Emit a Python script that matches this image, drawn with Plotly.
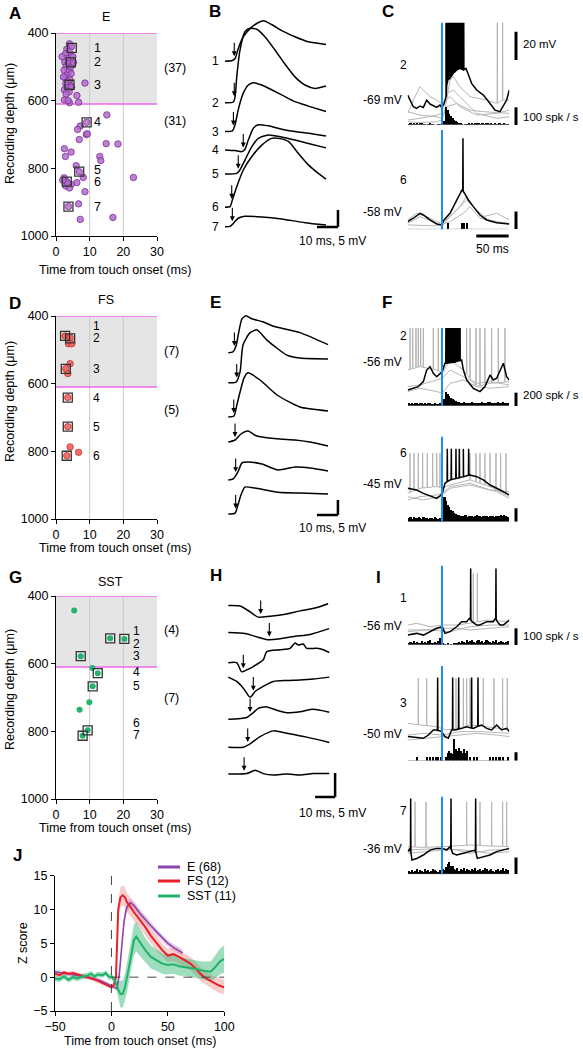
import numpy as np
import plotly.graph_objects as go

W, H = 583, 1050
FONT = "Liberation Sans, Arial, Helvetica, sans-serif"

# ======================= DATA =======================
# ---- A: E cells  (latency ms, depth um)
E_lat = [4.0, 4.6, 3.2, 3.9, 2.8, 4.4, 3.4, 4.0, 2.6, 3.6, 4.8, 3.0, 4.2, 2.4, 3.8, 4.5, 3.1, 2.7, 4.1,
         3.5, 2.9, 4.3, 3.3, 2.5, 3.9, 3.0, 8.6, 6.2, 2.5, 4.0, 6.7, 1.8, 5.2, 3.6, 2.2, 5.0, 4.6,
         15.1, 9.1, 7.2, 6.4, 9.0, 9.3, 6.9, 14.9, 18.4, 2.5, 4.5, 2.8, 13.0, 13.3, 6.0, 6.9, 8.1,
         23.0, 2.4, 6.2, 3.2, 2.9, 4.5, 3.5, 8.6, 3.7, 6.7, 7.2, 16.9, 2.0, 4.0]
E_depth = [432, 440, 448, 455, 462, 468, 475, 480, 486, 490, 494, 500, 505, 510, 515, 520, 525, 532, 538,
           544, 550, 556, 562, 568, 574, 580, 548, 585, 598, 606, 605, 470, 487, 600, 530, 470, 560,
           642, 664, 675, 685, 700, 698, 715, 727, 728, 742, 752, 765, 765, 777, 792, 810, 827,
           827, 828, 842, 839, 852, 848, 845, 869, 913, 905, 951, 945, 835, 858]
E_ex_lat = [4.7, 4.4, 4.0, 9.1, 6.9, 3.2, 3.7]
E_ex_depth = [444, 487, 553, 664, 810, 839, 913]
E_lab_depth = [444, 487, 553, 664, 805, 840, 913]
E_counts = ["(37)", "(31)"]

# ---- D: FS cells
FS_lat = [2.7, 4.2, 3.7, 4.7, 4.2, 2.9, 3.5, 3.5, 3.5, 4.2, 6.7, 3.2]
FS_depth = [459, 464, 482, 482, 541, 556, 570, 641, 727, 787, 803, 813]
FS_ex_lat = [2.7, 4.2, 2.9, 3.5, 3.5, 3.2]
FS_ex_depth = [459, 466, 556, 641, 727, 813]
FS_lab_depth = [431, 466, 556, 643, 727, 813]
FS_counts = ["(7)", "(5)"]

# ---- G: SST cells
SST_lat = [5.4, 16.1, 20.3, 7.35, 10.8, 12.4, 10.9, 9.9, 7.0, 9.4, 7.9]
SST_depth = [443, 525, 527, 578, 613, 628, 667, 714, 736, 797, 813]
SST_ex_lat = [16.1, 20.3, 7.35, 12.4, 10.9, 9.4, 7.9]
SST_ex_depth = [525, 527, 578, 628, 667, 797, 813]
SST_lab_depth = [503, 541, 577, 626, 667, 775, 812]
SST_counts = ["(4)", "(7)"]

L4_BOTTOM = 610

# ---- B: E example PSPs  (ms, mV re. baseline)
B_t = [[0, 3.5, 4.8, 6.3, 8.7, 11.9, 15.1, 18.3, 22.2, 27.0, 33.3, 39.7, 48.1],
       [0, 4.0, 4.8, 5.6, 7.1, 9.5, 11.9, 15.1, 19.0, 23.8, 28.6, 33.3, 38.1, 42.9, 48.1],
       [0, 3.5, 4.8, 6.3, 8.7, 11.1, 13.5, 17.5, 22.2, 27.0, 33.3, 39.7, 48.1],
       [0, 4.8, 8.0, 9.5, 11.1, 13.5, 15.9, 20.6, 27.0, 33.3, 39.7, 48.1],
       [0, 5.6, 7.1, 9.5, 12.7, 15.9, 20.6, 27.0, 33.3, 39.7, 48.1],
       [0, 2.4, 3.5, 5.6, 8.7, 12.7, 17.5, 22.2, 25.4, 30.2, 34.9, 39.7, 44.4, 48.1],
       [0, 2.4, 4.0, 6.3, 9.5, 17.5, 27.0, 38.1, 48.1]]
B_v = [[0, 0.2, 0.8, 3.7, 7.2, 9.6, 11.1, 11.9, 10.8, 9.0, 7.2, 5.7, 4.9],
       [0, 0.2, 1.8, 7.6, 15.3, 20.9, 21.9, 21.6, 19.4, 15.5, 11.3, 7.6, 5.2, 4.2, 4.9],
       [0, 0.2, 2.0, 6.4, 11.3, 13.7, 14.4, 13.7, 12.3, 10.8, 8.8, 7.5, 5.9],
       [0, -0.2, -0.5, 0.2, 2.9, 6.4, 7.4, 7.1, 6.1, 5.4, 4.9, 4.1],
       [0, 0.2, 1.2, 4.1, 8.0, 10.5, 11.5, 10.9, 10.0, 9.0, 7.7],
       [0, 0.2, 2.2, 6.1, 11.0, 14.9, 18.3, 20.3, 20.3, 19.4, 15.9, 12.5, 10.0, 8.3],
       [0, 0.1, 1.0, 2.5, 3.1, 2.9, 2.3, 1.2, 0.5]]
B_onset = [4.4, 4.4, 4.0, 8.7, 6.3, 3.2, 3.5]

# ---- E: FS example PSPs
EF_t = [[0, 2.2, 3.7, 5.1, 6.5, 8.4, 11.3, 16.5, 20.8, 24.6, 34.1, 47.5],
        [0, 3.7, 5.6, 7.0, 10.3, 13.7, 18.4, 27.9, 34.1, 47.5],
        [0, 2.7, 4.1, 5.6, 7.5, 9.4, 15.1, 23.2, 34.1, 47.5],
        [0, 3.2, 6.0, 9.4, 12.7, 16.0, 24.6, 31.8, 38.9, 47.5],
        [0, 2.2, 4.6, 6.5, 9.4, 16.0, 23.7, 31.8, 38.9, 47.5],
        [0, 3.2, 4.6, 6.0, 7.9, 12.7, 23.7, 34.1, 47.5]]
EF_v = [[0, 0.3, 2.3, 7.3, 11.3, 12.3, 11.3, 10.3, 9.0, 8.3, 6.7, 2.7],
        [0, 0.2, 3.6, 12.6, 16.6, 17.6, 14.2, 9.2, 8.2, 7.9],
        [0, 0.3, 4.0, 8.3, 13.0, 14.7, 12.3, 7.3, 3.3, 2.0],
        [0, 0.7, 2.7, 3.7, 2.3, 1.7, 1.0, 0.7, 0, -1.3],
        [0, 0.3, 2.7, 5.7, 6.0, 5.3, 3.3, 4.3, 4.0, 3.0],
        [0, 0.3, 3.0, 6.3, 9.0, 8.7, 7.3, 7.0, 6.7]]
EF_onset = [2.9, 4.0, 2.6, 3.2, 3.5, 3.5]

# ---- H: SST example PSPs
H_t = [[0, 5.9, 10.9, 14.9, 20.9, 28.4, 35.9, 43.4, 49.9],
       [0, 8.4, 14.9, 19.4, 25.9, 33.4, 40.9, 50.4],
       [0, 4.2, 6.7, 9.2, 12.5, 17.5, 19.2, 25.9, 30.9, 33.4, 35.0, 37.5, 39.2, 44.2, 47.5, 50.5],
       [0, 4.2, 7.5, 10.9, 13.4, 15.9, 22.5, 29.2, 35.9, 42.5, 50.5],
       [0, 9.2, 12.5, 15.0, 19.2, 24.2, 29.2, 35.9, 42.5, 50.5],
       [0, 7.5, 10.9, 15.9, 22.5, 29.2, 39.2, 50.5],
       [0, 9.2, 13.4, 17.5, 22.5, 29.2, 35.9, 42.5, 50.5]]
H_v = [[0, -0.1, -1.3, -2.4, -2.2, -1.8, -1.1, -0.5, 0.4],
       [0, -0.2, -1.0, -1.5, -1.3, -0.8, -0.4, 0.8],
       [0, 0, -1.9, -1.5, -0.8, 0.6, 2.3, 2.7, 3.0, 4.1, 3.7, 3.9, 3.0, 3.0, 2.7, 2.1],
       [0, -0.9, -2.3, -4.2, -3.0, -2.3, -0.9, -0.7, -0.6, -0.4, 0],
       [0, 0.4, 1.4, 2.3, 2.6, 1.9, 1.4, 1.6, 2.1, 1.5],
       [0, 0, 0.7, 2.2, 3.4, 2.9, 2.1, 1.0],
       [0, 0.1, 0.8, 0.1, -0.2, 0, -0.2, 0.1, 0.1]]
H_onset = [16.2, 20.5, 7.5, 12.5, 10.9, 9.7, 7.9]

# ---- C / F / I : membrane potential (ms, mV), spikes (ms), PSTH (spk/s, 2.5 ms bins from -52.5)
HIST_START, HIST_BIN = -52.5, 2.5

C2_black_t = [-53.0, -49.4, -44.3, -39.1, -34.0, -28.8, -23.7, -18.5, -13.4, -8.2, -3.1, -0.5, 3.1, 6.2, 8.2, 12.4,
              17.5, 22.7, 27.8, 33.0, 37.1, 40.7, 45.8, 53.6, 63.9, 74.2, 81.9, 89.6, 93.7, 99.9, 104.0]
C2_black_v = [-65.5, -69.0, -73.7, -74.9, -73.2, -74.2, -69.0, -71.8, -73.2, -74.2, -72.5, -74.2, -71.8, -66.6, -54.9,
              -53.7, -50.2, -47.8, -46.6, -47.8, -46.6, -51.4, -57.2, -61.9, -65.5, -71.4, -76.1, -77.2, -73.7, -69.0, -61.9]
C2_black_spk = [6.2, 7.7, 9.3, 10.8, 12.4, 13.9, 15.5, 17.0, 18.5, 20.6, 22.7, 24.7, 26.8, 28.8, 30.9, 33.5]
C2_g1_t = [-53.0, -34.0, -8.2, -0.5, 4.6, 12.4, 17.5, 27.8, 43.3, 69.0, 84.5, 94.8, 104.0]
C2_g1_v = [-77.2, -79.6, -80.8, -81.9, -76.1, -54.9, -52.5, -59.6, -66.6, -69.0, -71.4, -69.0, -69.0]
C2_g1_spk = [85.5, 93.7]
C2_g2_t = [-53.0, -34.0, -8.2, -0.5, 7.2, 17.5, 33.0, 53.6, 84.5, 104.0]
C2_g2_v = [-83.1, -81.9, -79.6, -78.4, -64.3, -61.9, -69.0, -78.4, -81.9, -80.8]
C2_g3_t = [-53.0, -44.3, -34.0, -28.8, -18.5, -8.2, -0.5, 12.4, 27.8, 53.6, 84.5, 104.0]
C2_g3_v = [-78.4, -69.0, -59.6, -61.9, -66.6, -69.0, -71.4, -66.6, -73.7, -79.6, -78.4, -76.1]
C2_g4_t = [-53.0, -34.0, -8.2, -0.5, 7.2, 22.7, 43.3, 63.9, 104.0]
C2_g4_v = [-84.3, -85.0, -84.3, -83.1, -73.7, -71.4, -76.1, -77.2, -78.4]
C2_hist = [5, 10, 5, 8, 3, 12, 5, 8, 10, 5, 3, 0, 5, 8, 5, 3, 0, 0, 3, 5, 0,
           0, 20, 100, 85, 65, 50, 40, 30, 20, 15, 10, 8, 5, 0, 5, 3, 8, 5, 10, 5,
           12, 8, 10, 5, 8, 12, 5, 10, 8, 5, 10, 5, 8, 3, 5, 8, 3, 5, 8, 3, 5]

C6_black_t = [-53.0, -44.3, -34.0, -28.8, -18.5, -8.2, -0.5, 3.1, 12.4, 22.7, 27.8, 30.9, 35.0, 40.7, 48.4, 58.7,
              69.0, 84.5, 104.0]
C6_black_v = [-63.9, -61.5, -58.0, -59.2, -62.7, -65.5, -66.2, -62.7, -58.0, -48.6, -43.9, -41.5, -43.9, -48.6,
              -53.3, -59.2, -62.7, -64.6, -65.5]
C6_black_spk = [32.4]
C6_g1_t = [-53.0, -34.0, -8.2, -0.5, 12.4, 27.8, 38.1, 48.4, 63.9, 84.5, 104.0]
C6_g1_v = [-65.1, -60.4, -65.1, -67.4, -60.4, -53.3, -46.2, -53.3, -60.4, -58.0, -62.7]
C6_g2_t = [-53.0, -39.1, -23.7, -0.5, 17.5, 38.1, 53.6, 74.2, 104.0]
C6_g2_v = [-62.7, -58.0, -60.4, -65.5, -58.0, -48.6, -55.6, -63.9, -65.1]
C6_g3_t = [-53.0, -8.2, 12.4, 33.0, 43.3, 58.7, 104.0]
C6_g3_v = [-66.2, -66.9, -63.9, -58.0, -53.3, -61.5, -65.5]
C6_hist = [0] * 24 + [35] + [0] * 8 + [35, 35, 0, 35] + [0] * 25

F2_black_t = [-53.0, -44.3, -36.6, -28.8, -23.7, -18.5, -13.4, -8.2, -3.1, 0.5, 4.6, 22.7, 30.4, 33.0, 38.1, 48.4,
              58.7, 66.4, 74.2, 79.3, 84.5, 94.8, 99.9, 104.0]
F2_black_v = [-72.5, -71.3, -70.1, -66.6, -58.4, -56.0, -60.7, -63.1, -60.7, -59.5, -53.6, -52.5, -51.3, -58.4,
              -65.4, -71.3, -73.6, -70.1, -61.9, -65.4, -64.2, -53.6, -63.1, -65.4]
F2_black_spk = [6.2, 7.7, 9.3, 10.8, 12.4, 13.9, 15.5, 17.0, 18.5, 20.1, 21.6, 23.2, 24.7, 26.3, 27.8]
F2_gray_t = [-53.0, -34.0, -8.2, 0.5, 12.4, 33.0, 53.6, 74.2, 104.0]
F2_g1_v = [-58.4, -56.0, -58.4, -60.7, -51.3, -58.4, -70.1, -67.8, -66.6]
F2_g2_v = [-70.1, -68.9, -65.4, -64.2, -58.4, -63.1, -67.8, -66.6, -68.9]
F2_g3_v = [-73.6, -71.3, -73.6, -74.8, -67.8, -65.4, -70.1, -71.3, -70.1]
F2_g1_spk = [-49.4, -45.3, -40.2, -36.6, -33.0, -28.8, -13.4, -5.7, 38.1, 43.3, 52.5, 58.7, 66.4, 76.7, 87.0, 97.3]
F2_hist = [40, 30, 45, 35, 50, 40, 30, 45, 40, 35, 50, 30, 40, 45, 35, 30, 40, 35, 30, 45, 40,
           30, 100, 210, 180, 150, 120, 100, 85, 70, 65, 55,
           50, 45, 55, 40, 50, 45, 40, 55, 50, 45, 40, 50, 45, 55, 40, 50, 45, 55, 60, 50,
           45, 40, 50, 55, 45, 50, 55, 45, 50, 40]

F6_black_t = [-53.0, -39.1, -28.8, -18.5, -8.2, -3.1, 0.5, 4.6, 12.4, 22.7, 33.0, 43.3, 53.6, 63.9, 74.2, 84.5,
              94.8, 104.0]
F6_black_v = [-47.8, -49.0, -51.4, -53.2, -54.9, -53.2, -51.4, -44.3, -41.9, -40.8, -39.6, -38.4, -39.6, -41.9,
              -45.5, -47.8, -50.2, -52.5]
F6_black_spk = [8.2, 14.4, 21.6, 26.8, 33.0, 41.2]
F6_g1_t = [-53.0, -34.0, -8.2, 0.5, 12.4, 43.3, 74.2, 104.0]
F6_g1_v = [-51.4, -47.8, -46.6, -47.8, -45.5, -41.9, -46.6, -53.7]
F6_g2_v = [-56.1, -53.7, -52.5, -51.4, -46.6, -44.3, -49.0, -50.2]
F6_g3_t = [-53.0, -28.8, -3.1, 12.4, 43.3, 84.5, 104.0]
F6_g3_v = [-53.7, -56.1, -53.7, -47.8, -45.5, -50.2, -54.9]
F6_g1_spk = [-49.4, -43.3, -36.6, -29.9, -22.7, -14.4, -8.2, -3.1, 43.3, 52.5, 58.7, 66.4, 74.2, 83.4, 90.6, 98.9]
F6_hist = [60, 70, 50, 80, 60, 55, 70, 65, 50, 75, 60, 55, 45, 65, 60, 50, 70, 55, 45, 60, 50,
           150, 370, 320, 260, 220, 180, 160, 140, 120, 110, 100,
           90, 95, 85, 100, 80, 90, 95, 85, 80, 90, 100, 85, 90, 80, 95, 85, 90, 80, 85, 95,
           90, 80, 85, 90, 95, 100, 85, 110, 90, 80]

I1_black_t = [-53.0, -39.1, -28.8, -18.5, -8.2, 0.5, 4.6, 12.4, 22.7, 30.4, 38.1, 42.2, 46.4, 53.6, 58.7, 69.0,
              79.3, 82.4, 85.5, 89.6, 94.8, 104.0]
I1_black_v = [-62.4, -61.2, -62.4, -60.0, -57.6, -56.5, -61.2, -60.0, -56.5, -52.9, -52.9, -50.6, -52.9, -55.3,
              -55.3, -52.9, -52.9, -50.6, -52.9, -55.3, -55.3, -51.8]
I1_black_spk = [44.3, 83.4]
I1_g1_t = [-53.0, -39.1, -18.5, 0.5, 22.7, 43.3, 69.0, 104.0]
I1_g1_v = [-55.3, -54.1, -56.5, -55.3, -55.3, -54.1, -51.8, -52.9]
I1_g1_spk = [48.4, 54.6]
I1_g2_t = [-53.0, -28.8, 0.5, 22.7, 43.3, 74.2, 104.0]
I1_g2_v = [-60.0, -58.8, -57.6, -57.6, -58.8, -57.6, -56.5]
I1_g3_t = [-53.0, -18.5, 12.4, 43.3, 74.2, 104.0]
I1_g3_v = [-58.8, -58.8, -60.0, -56.5, -55.3, -55.3]
I1_hist = [15, 20, 10, 25, 15, 20, 10, 15, 25, 10, 20, 15, 25, 30, 15, 10, 20, 15, 25, 40, 10,
           10, 5, 0, 10, 0, 5, 0,
           10, 15, 10, 20, 15, 25, 20, 15, 30, 20, 25, 30, 20, 15, 25, 30, 20, 25, 15, 20,
           30, 25, 20, 15, 25, 20, 30, 15, 20, 25, 20, 15, 20, 25]

I3_black_t = [-53.0, -39.1, -28.8, -21.1, -13.4, -8.2, -0.5, 4.6, 9.8, 14.9, 20.1, 30.4, 38.1, 48.4, 53.6, 61.3,
              69.0, 76.7, 84.5, 92.2, 99.9, 104.0]
I3_black_v = [-51.6, -52.1, -52.8, -50.5, -46.9, -46.9, -48.1, -51.6, -52.8, -46.9, -46.9, -45.8, -44.6, -45.8,
              -44.6, -43.4, -45.8, -46.9, -43.4, -46.9, -45.8, -48.1]
I3_black_spk = [-6.7, 16.5, 25.8, 45.8, 55.6]
I3_g1_t = [-53.0, -34.0, -8.2, 7.2, 22.7, 43.3, 69.0, 104.0]
I3_g1_v = [-42.2, -43.4, -44.6, -46.9, -45.8, -43.4, -44.6, -46.9]
I3_g1_spk = [-36.6, -23.7, 21.6, 33.0, 38.1, 43.3, 63.9, 80.3, 93.7, 100.9]
I3_g2_t = [-53.0, -23.7, 0.5, 22.7, 53.6, 84.5, 104.0]
I3_g2_v = [-54.0, -52.8, -51.6, -50.5, -49.3, -50.5, -51.6]
I3_g3_t = [-53.0, -28.8, 0.5, 27.8, 58.7, 104.0]
I3_g3_v = [-50.5, -49.3, -50.5, -48.1, -48.1, -49.3]
I3_hist = [0, 0, 0, 0, 0, 25, 0, 0, 0, 0, 0, 25, 0, 25, 0, 25, 0, 25, 25, 0,
           25, 0, 0, 25, 50, 60, 50, 40, 130, 70, 60, 75, 60, 50, 70, 45, 60, 0, 25, 0,
           25, 0, 25, 0, 0, 0, 0, 0, 0, 0, 25, 0, 25, 0, 25, 0, 25, 0, 25, 0, 0, 25]

I7_black_t = [-53.0, -49.4, -46.4, -39.1, -28.8, -18.5, -8.2, 0.5, 7.2, 12.4, 16.5, 22.7, 33.0, 43.3, 51.0, 54.6,
              63.9, 74.2, 84.5, 94.8, 104.0]
I7_black_v = [-37.6, -35.3, -43.5, -42.4, -40.0, -36.5, -35.3, -35.3, -36.5, -34.1, -38.8, -40.0, -38.8, -37.6,
              -36.5, -42.4, -41.2, -40.0, -37.6, -36.5, -35.3]
I7_black_spk = [-48.4, 13.9, 52.0]
I7_gray_t = [-53.0, -28.8, 0.5, 22.7, 43.3, 74.2, 104.0]
I7_g1_v = [-34.1, -34.6, -34.1, -33.6, -32.9, -33.6, -34.1]
I7_g2_v = [-38.8, -37.6, -36.5, -36.0, -36.9, -38.8, -37.6]
I7_g3_v = [-36.5, -36.0, -35.3, -36.5, -38.8, -36.5, -36.0]
I7_g1_spk = [-41.7, -24.7, 38.1, 58.7, 76.7, 93.7, 99.9]
I7_hist = [20, 15, 25, 10, 20, 30, 15, 25, 20, 15, 30, 20, 25, 15, 20, 30, 25, 20, 15, 25, 20,
           30, 25, 40, 60, 70, 50, 45, 30, 25, 35,
           20, 30, 25, 35, 20, 30, 25, 20, 30, 25, 35, 20, 25, 30, 20, 25, 35, 30, 20, 25,
           30, 20, 15, 25, 30, 20, 25, 35, 20, 30, 25]

# ---- J: population Z score
J_E_t = [-50, -45, -40, -35, -30, -25, -20, -15, -10, -5, 0, 3, 5, 7, 9, 11, 13, 15, 17,
         20, 25, 30, 35, 40, 45, 50, 55, 60, 63]
J_E = [0.8, 0.6, 0.5, 0.4, 0.2, 0.1, 0.0, -0.2, -0.5, -0.9, -1.3, -1.5, -1.7, 0.5, 4.5, 8.0, 10.0, 10.7, 11.0,
       10.6, 9.5, 8.5, 7.6, 6.7, 5.8, 5.0, 4.4, 3.9, 3.6]
J_E_sem = [0.3, 0.3, 0.3, 0.3, 0.3, 0.3, 0.3, 0.3, 0.3, 0.3, 0.3, 0.3, 0.3, 0.5, 0.6, 0.7, 0.7, 0.7, 0.7,
           0.6, 0.6, 0.6, 0.5, 0.5, 0.5, 0.5, 0.5, 0.5, 0.5]
J_FS_t = [-50, -46, -42, -38, -34, -30, -26, -22, -18, -14, -10, -6, -2,
          0, 2, 4, 5, 6, 8, 10, 12, 14, 16, 18, 20,
          25, 30, 35, 40, 45, 50, 55, 60, 65, 70, 75, 80, 85, 90, 95, 100]
J_FS = [0.5, 0.3, 0.7, 0.5, 0.6, 0.4, 0.3, 0.1, -0.1, -0.4, -0.7, -1.0, -1.3,
        -1.5, -1.2, 0.0, 5.0, 10.0, 11.8, 12.1, 11.8, 11.0, 10.6, 10.0, 9.6,
        8.5, 7.4, 6.1, 5.0, 4.0, 3.2, 3.4, 3.0, 2.5, 2.0, 1.2, 0.3, -0.3, -0.8, -1.2, -1.5]
J_FS_sem = [0.3, 0.3, 0.3, 0.3, 0.3, 0.3, 0.3, 0.3, 0.3, 0.3, 0.3, 0.3, 0.3,
            0.3, 0.3, 0.5, 1.0, 1.3, 1.5, 1.5, 1.5, 1.4, 1.4, 1.3, 1.3,
            1.2, 1.2, 1.1, 1.1, 1.0, 1.0, 1.0, 1.0, 1.0, 1.0, 1.0, 1.0, 1.0, 1.0, 1.1, 1.1]
J_SST_t = [-50, -46, -42, -38, -34, -30, -26, -22, -18, -15, -12, -8, -5, -2, 0,
           3, 6, 8, 10, 12, 15, 18, 20, 22, 25, 28, 30,
           35, 40, 45, 50, 55, 60, 65, 70, 75, 80, 85, 88, 92, 96, 100]
J_SST = [-0.2, -0.3, 0.1, -0.4, 0.0, -0.2, 0.1, 0.2, 0.5, 0.1, 0.4, 0.3, 0.6, 0.0, 0.1,
         -0.5, -1.8, -2.5, -2.5, -1.5, 1.0, 4.0, 5.5, 6.0, 5.2, 4.5, 4.0,
         3.0, 2.5, 2.0, 1.8, 1.9, 1.6, 1.5, 1.3, 1.2, 1.0, 0.9, 0.8, 1.5, 2.3, 2.7]
J_SST_sem = [0.4, 0.4, 0.4, 0.4, 0.4, 0.4, 0.4, 0.4, 0.4, 0.4, 0.4, 0.4, 0.4, 0.4, 0.4,
             0.5, 1.2, 2.0, 2.0, 2.0, 2.2, 2.3, 2.3, 2.2, 2.0, 1.9, 1.8,
             1.7, 1.6, 1.5, 1.4, 1.4, 1.4, 1.3, 1.3, 1.3, 1.3, 1.4, 1.5, 1.7, 1.9, 2.0]
J_names = ["E (68)", "FS (12)", "SST (11)"]

# ======================= BUILD =======================
fig = go.Figure()
axes, ann, shp = {}, [], []
cnt = {'x': 0, 'y': 0}


def xd(a, b):
    return [a / W, b / W]


def yd(top, bottom):
    return [1 - bottom / H, 1 - top / H]


def new_axis(kind, **kw):
    cnt[kind] += 1
    n = cnt[kind]
    key = f"{kind}axis" + ("" if n == 1 else str(n))
    ref = kind + ("" if n == 1 else str(n))
    axes[key] = kw
    return ref, key


def hidden():
    return dict(visible=False, showgrid=False, zeroline=False, fixedrange=True)


def vis_axis(tickvals):
    return dict(visible=True, tickvals=tickvals, ticks='outside', ticklen=4, tickwidth=1, tickcolor='black',
                showline=True, linecolor='black', linewidth=1, showgrid=False, zeroline=False, fixedrange=True,
                automargin=False, tickfont=dict(size=12.5, color='black', family=FONT))


def pair(xdom, ydom, xr, yr, xkw=None, ykw=None):
    xref, xkey = new_axis('x', domain=xdom, range=xr, **(xkw or hidden()))
    yref, ykey = new_axis('y', domain=ydom, range=yr, **(ykw or hidden()))
    axes[xkey]['anchor'] = yref
    axes[ykey]['anchor'] = xref
    return xref, yref


def txt(x, y, s, size=12.5, xanchor='center', yanchor='middle', bold=False, xref='paper', yref='paper',
        angle=0):
    if xref == 'paper':
        x = x / W
    if yref == 'paper':
        y = 1 - y / H
    ann.append(dict(x=x, y=y, xref=xref, yref=yref, text=f"<b>{s}</b>" if bold else s, showarrow=False,
                    xanchor=xanchor, yanchor=yanchor, textangle=angle,
                    font=dict(size=size, color='black', family=FONT)))


def pline(x0, y0, x1, y1, xref='paper', yref='paper', color='black', width=1, dash=None, layer='above'):
    if xref == 'paper':
        x0, x1 = x0 / W, x1 / W
    if yref == 'paper':
        y0, y1 = 1 - y0 / H, 1 - y1 / H
    ln = dict(color=color, width=width)
    if dash:
        ln['dash'] = dash
    shp.append(dict(type='line', x0=x0, y0=y0, x1=x1, y1=y1, xref=xref, yref=yref, line=ln, layer=layer))


# ---------- panel letters ----------
for L, x, y in [("A", 15, 13), ("B", 215, 11), ("C", 388, 11), ("D", 15, 303), ("E", 215, 302),
                ("F", 387, 302), ("G", 15, 577), ("H", 216, 575), ("I", 378, 577), ("J", 17, 855)]:
    txt(x, y, L, size=17, bold=True)


# ---------- A / D / G ----------
def depth_panel(top, title, title_y, lat, dep, ex_lat, ex_dep, lab_dep, lab_lat, counts, count_dep, count_x,
                fill, edge, size, ew, xtitle_y, ytitle_y, lab_size):
    xr, yr = pair(xd(56, 157), yd(top, top + 203), [0, 30], [1000, 400],
                  vis_axis([0, 10, 20, 30]), vis_axis([400, 600, 800, 1000]))
    shp.append(dict(type='rect', xref=xr, yref=yr, x0=0, x1=30, y0=400, y1=L4_BOTTOM,
                    fillcolor='#e5e5e5', line=dict(width=0), layer='below'))
    for gx in (10, 20):
        pline(gx, 400, gx, 1000, xr, yr, color='#c9c9c9', width=1, layer='below')
    for b in (400, L4_BOTTOM):
        pline(0, b, 30, b, xr, yr, color='#ee66ee', width=1.5, layer='below')
    fig.add_trace(go.Scatter(x=lat, y=dep, mode='markers', xaxis=xr, yaxis=yr, cliponaxis=False,
                             marker=dict(size=size, color=fill, line=dict(color=edge, width=ew))))
    fig.add_trace(go.Scatter(x=ex_lat, y=ex_dep, mode='markers', xaxis=xr, yaxis=yr, cliponaxis=False,
                             marker=dict(symbol='square-open', size=9, color='#333333', line=dict(width=1.3))))
    for i, d in enumerate(lab_dep):
        txt(lab_lat, d, str(i + 1), size=lab_size, xref=xr, yref=yr)
    for c, d in zip(counts, count_dep):
        txt(count_x, d, c, size=12.5, yref=yr)
    txt(106 if len(title) < 3 else 110, title_y, title, size=12.5)
    txt(115, xtitle_y, "Time from touch onset (ms)", size=12.5)
    txt(10, ytitle_y, "Recording depth (μm)", size=12.5, angle=-90)


depth_panel(33, "E", 17, E_lat, E_depth, E_ex_lat, E_ex_depth, E_lab_depth, 12.4, E_counts, [503, 661], 175,
            'rgba(178,108,205,0.85)', '#7b3294', 6.5, 0.8, 270, 124, 12.5)
depth_panel(316, "FS", 300, FS_lat, FS_depth, FS_ex_lat, FS_ex_depth, FS_lab_depth, 12.1, FS_counts,
            [502, 679], 171, 'rgba(242,98,98,0.92)', '#c0392b', 6.5, 0.8, 548, 402, 12)
depth_panel(596, "SST", 582, SST_lat, SST_depth, SST_ex_lat, SST_ex_depth, SST_lab_depth, 23.8, SST_counts,
            [500, 701], 171, '#22b46e', '#22b46e', 6, 0, 828, 690, 12)


# ---------- B / E / H ----------
def psp_panel(xdom, ydom, yr_max, ts, vs, offsets, onsets, px_per_mv, lab_x, bar, bar_text_y):
    xr, yr = pair(xd(*xdom), yd(*ydom), [-2, 58], [0, yr_max])
    for i, (t, v, off) in enumerate(zip(ts, vs, offsets)):
        fig.add_trace(go.Scatter(x=t, y=[off + a for a in v], mode='lines', xaxis=xr, yaxis=yr,
                                 line=dict(color='black', width=1.5, shape='spline', smoothing=0.6)))
        txt(lab_x, off, str(i + 1), size=12, xanchor='right', xref=xr, yref=yr)
        tip = off + float(np.interp(onsets[i], t, v)) + 3.0 / px_per_mv
        ann.append(dict(x=onsets[i], y=tip, xref=xr, yref=yr, ax=0, ay=-15, axref='pixel', ayref='pixel',
                        text='', showarrow=True, arrowhead=2, arrowsize=0.9, arrowwidth=1.1,
                        arrowcolor='black', standoff=0))
    bx0, bx1, by = bar
    pline(bx0, by, bx1, by, xr, yr, width=2.5)
    pline(bx1, by, bx1, by + 5, xr, yr, width=2.5)
    txt(332, bar_text_y, "10 ms, 5 mV", size=12)


psp_panel((220.8, 346.8), (15, 240), 66.2, B_t, B_v, [52.6, 40.4, 31.9, 26.5, 19.4, 9.6, 3.9], B_onset, 3.4,
          -2.0, (43.8, 53.8, 3.8), 241)
psp_panel((224.1, 350.1), (305, 530), 75, EF_t, EF_v, [59.1, 49.1, 37.7, 29.3, 16.7, 5.3], EF_onset, 3.0,
          -2.3, (42.2, 52.2, 5.0), 528)
psp_panel((224.3, 344.3), (590, 800), 43.75, H_t, H_v, [40.5, 34.9, 28.6, 25.6, 16.8, 11.0, 5.4], H_onset, 4.8,
          -2.5, (43.4, 53.4, 0.6), 813)


# ---------- C / F / I ----------
def with_spikes(t, v, spikes, peak, hw=0.35):
    pts = list(zip(t, v))
    for s in spikes:
        b = float(np.interp(s, t, v))
        pts += [(s - hw, b), (s, peak), (s + hw, b)]
    pts.sort()
    return [p[0] for p in pts], [p[1] for p in pts]


def ephys_panel(top, bottom, vr, ppu, black, grays, hist, num, mv, num_y, mv_y, bar_len):
    xr, yr = pair(xd(407.7, 509.3), yd(top, bottom), [-53, 104], vr)
    hy, _ = new_axis('y', domain=yd(bottom - 50, bottom), range=[0, 50 / ppu], anchor=xr, **hidden())
    for (t, v, spk, peak) in grays:
        x, y = with_spikes(t, v, spk, peak)
        fig.add_trace(go.Scatter(x=x, y=y, mode='lines', xaxis=xr, yaxis=yr,
                                 line=dict(color='#b5b5b5', width=1)))
    t, v, spk, peak = black
    x, y = with_spikes(t, v, spk, peak)
    fig.add_trace(go.Scatter(x=x, y=y, mode='lines', xaxis=xr, yaxis=yr, line=dict(color='black', width=1.5)))
    centers = [HIST_START + HIST_BIN * (i + 0.5) for i in range(len(hist))]
    fig.add_trace(go.Bar(x=centers, y=hist, width=HIST_BIN, xaxis=xr, yaxis=hy,
                         marker=dict(color='black', line=dict(width=0))))
    pline(-53, 0, 104, 0, xr, hy, color='#9a9a9a', width=1)
    shp.append(dict(type='line', xref=xr, yref=f"{yr} domain", x0=0, x1=0, y0=0, y1=1,
                    line=dict(color='#1e8cf0', width=2)))
    shp.append(dict(type='line', xref='paper', yref=hy, x0=516 / W, x1=516 / W, y0=0, y1=bar_len,
                    line=dict(color='black', width=3)))
    txt(409, num_y, num, size=12, xanchor='right')
    txt(404, mv_y, mv, size=12, xanchor='right')
    return xr, yr, hy


xC2, yC2, hC2 = ephys_panel(22.7, 125, [-86.6, -14.4], 0.177,
                            (C2_black_t, C2_black_v, C2_black_spk, 0.0),
                            [(C2_g1_t, C2_g1_v, C2_g1_spk, 0.0), (C2_g2_t, C2_g2_v, [], 0),
                             (C2_g3_t, C2_g3_v, [], 0), (C2_g4_t, C2_g4_v, [], 0)],
                            C2_hist, "2", "-69 mV", 65, 100, 100)
xC6, yC6, hC6 = ephys_panel(130, 229.3, [-69.3, 0.8], 0.177,
                            (C6_black_t, C6_black_v, C6_black_spk, -5.0),
                            [(C6_g1_t, C6_g1_v, [], 0), (C6_g2_t, C6_g2_v, [], 0), (C6_g3_t, C6_g3_v, [], 0)],
                            C6_hist, "6", "-58 mV", 180, 212, 100)
ephys_panel(328, 406, [-83.8, -28.7], 0.0667,
            (F2_black_t, F2_black_v, F2_black_spk, 0.0),
            [(F2_gray_t, F2_g1_v, F2_g1_spk, 0.0), (F2_gray_t, F2_g2_v, [], 0), (F2_gray_t, F2_g3_v, [], 0)],
            F2_hist, "2", "-56 mV", 336, 362, 200)
ephys_panel(436.7, 521.7, [-71.4, -11.4], 0.0667,
            (F6_black_t, F6_black_v, F6_black_spk, -20.0),
            [(F6_g1_t, F6_g1_v, F6_g1_spk, -23.0), (F6_g1_t, F6_g2_v, [], 0), (F6_g3_t, F6_g3_v, [], 0)],
            F6_hist, "6", "-45 mV", 453, 484, 200)
ephys_panel(565.7, 645, [-69.4, -13.4], 0.167,
            (I1_black_t, I1_black_v, I1_black_spk, -15.3),
            [(I1_g1_t, I1_g1_v, I1_g1_spk, -18.8), (I1_g2_t, I1_g2_v, [], 0), (I1_g3_t, I1_g3_v, [], 0)],
            I1_hist, "1", "-56 mV", 598, 626, 100)
ephys_panel(666, 760.7, [-68.6, -1.8], 0.167,
            (I3_black_t, I3_black_v, I3_black_spk, -10.0),
            [(I3_g1_t, I3_g1_v, I3_g1_spk, -10.5), (I3_g2_t, I3_g2_v, [], 0), (I3_g3_t, I3_g3_v, [], 0)],
            I3_hist, "3", "-50 mV", 703, 734, 50)
ephys_panel(796.7, 874.3, [-53.6, 1.2], 0.167,
            (I7_black_t, I7_black_v, I7_black_spk, 0.0),
            [(I7_gray_t, I7_g1_v, I7_g1_spk, -2.4), (I7_gray_t, I7_g2_v, [], 0), (I7_gray_t, I7_g3_v, [], 0)],
            I7_hist, "7", "-36 mV", 811, 849, 100)

# scale bars C / F / I
shp.append(dict(type='line', xref='paper', yref=yC2, x0=516 / W, x1=516 / W, y0=-40.7, y1=-20.7,
                line=dict(color='black', width=3)))
txt(521, 44, "20 mV", size=11.5, xanchor='left')
txt(521, 117, "100 spk / s", size=11.5, xanchor='left')
txt(521, 395, "200 spk / s", size=11.5, xanchor='left')
txt(521, 636, "100 spk / s", size=11.5, xanchor='left')
shp.append(dict(type='line', xref=xC6, yref='paper', x0=53, x1=103, y0=1 - 236 / H, y1=1 - 236 / H,
                line=dict(color='black', width=3)))
txt(492, 249, "50 ms", size=12)

# ---------- J ----------
xj, yj = pair(xd(55, 224.3), yd(875.7, 1011), [-50, 100], [-5, 15],
              vis_axis([-50, 0, 50, 100]), vis_axis([-5, 0, 5, 10, 15]))
J_COL = ['#8e44ad', '#e8202a', '#22b36b']
J_FILL = ['rgba(150,80,175,0.28)', 'rgba(238,90,90,0.30)', 'rgba(40,180,110,0.45)']
series = [(J_E_t, J_E, J_E_sem), (J_FS_t, J_FS, J_FS_sem), (J_SST_t, J_SST, J_SST_sem)]
for (t, m, s), fc in zip(series, J_FILL):
    up = [a + b for a, b in zip(m, s)]
    lo = [a - b for a, b in zip(m, s)]
    fig.add_trace(go.Scatter(x=list(t) + list(t)[::-1], y=up + lo[::-1], fill='toself', fillcolor=fc,
                             mode='lines', line=dict(width=0), xaxis=xj, yaxis=yj, hoverinfo='skip'))
pline(0, -5, 0, 15, xj, yj, color='#444', width=1, dash='dash')
pline(0, 0, 100, 0, xj, yj, color='#444', width=1, dash='dash')
for (t, m, s), c, w in zip(series, J_COL, [1.6, 2, 2]):
    fig.add_trace(go.Scatter(x=t, y=m, mode='lines', line=dict(color=c, width=w), xaxis=xj, yaxis=yj))
for name, c, yy in zip(J_names, J_COL, [867, 881, 896]):
    pline(158, yy, 180, yy, color=c, width=3)
    txt(185, yy, name, size=12.5, xanchor='left')
txt(140, 1041, "Time from touch onset (ms)", size=12.5)
txt(23, 943, "Z score", size=12.5, angle=-90)

fig.update_layout(width=W, height=H, margin=dict(l=0, r=0, t=0, b=0, pad=0, autoexpand=False),
                  showlegend=False, paper_bgcolor='white', plot_bgcolor='rgba(0,0,0,0)', hovermode=False,
                  font=dict(family=FONT, color='black'), bargap=0,
                  annotations=ann, shapes=shp, **axes)
fig.write_html("out.html", config={'displayModeBar': False},
               post_script="document.body.style.margin='0px';document.body.style.padding='0px';")
